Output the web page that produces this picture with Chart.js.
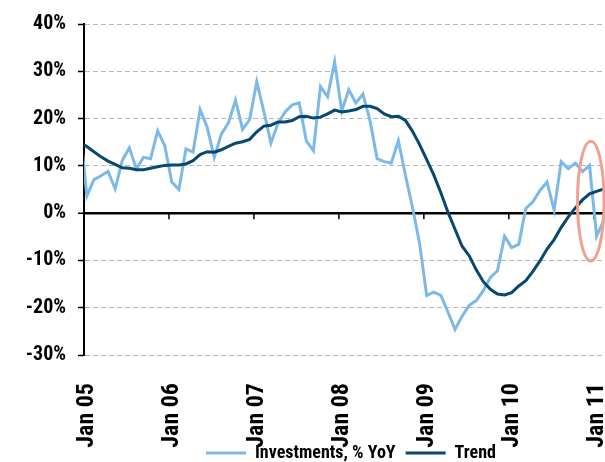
<!DOCTYPE html>
<html>
<head>
<meta charset="utf-8">
<script src="https://cdn.jsdelivr.net/npm/chart.js@4.4.1/dist/chart.umd.min.js"></script>
<style>
    html, body { margin: 0; padding: 0; background: #fff; overflow: hidden; }
    #wrap { width: 605px; height: 462px; overflow: hidden; }
    #chartCanvas { display: block; }
</style>
</head>
<body>
<div id="wrap"><canvas id="chartCanvas" width="702" height="472"></canvas></div>
<script>

// monthly values, first entry is Dec 04 (cut by the axis), last is Feb 11
const firstMonth = -1;

const investments = [
    19.0,
    3.6, 7.1, 7.9, 8.8, 5.1, 11.1, 13.8, 9.4, 11.8, 11.5, 17.4, 14.3,
    6.6, 5.0, 13.6, 12.9, 21.9, 18.1, 11.8, 16.7, 19.1, 23.9, 17.7, 19.8,
    27.8, 21.5, 14.8, 19.0, 21.4, 22.9, 23.3, 15.3, 13.2, 26.8, 24.6, 32.0,
    21.6, 26.1, 23.3, 25.2, 19.5, 11.5, 10.9, 10.6, 15.3, 8.0, 1.2, -6.4,
    -17.4, -16.7, -17.4, -20.9, -24.6, -21.8, -19.5, -18.5, -16.4, -13.6, -12.2, -4.9,
    -7.3, -6.6, 1.0, 2.4, 4.8, 6.6, 0.6, 10.9, 9.4, 10.6, 8.8, 10.1,
    -4.9, -1.5
];

const trend = [
    15.0,
    14.1, 13.0, 11.9, 11.0, 10.3, 9.6, 9.5, 9.2, 9.2, 9.5, 9.8, 10.1,
    10.2, 10.2, 10.4, 11.1, 12.4, 13.0, 12.9, 13.4, 14.1, 14.8, 15.1, 15.6,
    17.2, 18.4, 18.6, 19.3, 19.3, 19.6, 20.4, 20.5, 20.1, 20.3, 21.0, 21.8,
    21.4, 21.6, 21.9, 22.6, 22.6, 22.1, 21.0, 20.4, 20.5, 19.6, 17.3, 14.5,
    11.3, 8.1, 4.3, 0.2, -3.4, -7.0, -9.0, -12.0, -14.5, -16.1, -17.1, -17.3,
    -16.8, -15.4, -14.3, -12.3, -10.1, -7.6, -5.6, -3.0, -0.8, 1.1, 2.8, 4.1,
    4.6, 5.1
];

const yearTicks = [0, 12, 24, 36, 48, 60, 72];
const yearLabels = ["Jan 05", "Jan 06", "Jan 07", "Jan 08", "Jan 09", "Jan 10", "Jan 11"];
const yearMarks = [11.6, 23.6, 35.6, 47.6, 59.6, 71.6];

// the red ring round the last months, in data units
const highlight = { xFrom: 69.3, xTo: 73.05, yFrom: -10.1, yTo: 15.2 };

const toPoints = (arr) => arr.map((v, i) => ({ x: firstMonth + i, y: v }));

Chart.defaults.font.family = "'Roboto Condensed', 'Open Sans Condensed', sans-serif";
Chart.defaults.font.weight = "bold";
Chart.defaults.color = "#000";

const extras = {
    id: "extras",
    beforeDatasetsDraw(chart) {
        const { ctx, scales: { x, y } } = chart;
        const y0 = y.getPixelForValue(0);
        ctx.save();
        ctx.strokeStyle = "#000";
        ctx.lineWidth = 1.5;
        yearMarks.forEach(v => {
            const px = x.getPixelForValue(v);
            ctx.beginPath();
            ctx.moveTo(px, y0);
            ctx.lineTo(px, y0 + 6);
            ctx.stroke();
        });
        ctx.restore();
    },
    afterDatasetsDraw(chart) {
        const { ctx, scales: { x, y } } = chart;
        const x1 = x.getPixelForValue(highlight.xFrom);
        const x2 = x.getPixelForValue(highlight.xTo);
        const yT = y.getPixelForValue(highlight.yTo);
        const yB = y.getPixelForValue(highlight.yFrom);
        ctx.save();
        ctx.strokeStyle = "#f4a08f";
        ctx.lineWidth = 3;
        ctx.beginPath();
        ctx.ellipse((x1 + x2) / 2, (yT + yB) / 2, (x2 - x1) / 2, (yB - yT) / 2, 0, 0, 2 * Math.PI);
        ctx.stroke();
        ctx.restore();
    }
};

let ctx = document.querySelector("#chartCanvas");

let graph = new Chart(ctx, {

    type: "line",

    data: {
        datasets: [
            {
                label: "Investments, % YoY",
                data: toPoints(investments),
                borderColor: "#7db9e8",
                backgroundColor: "#7db9e8",
                borderWidth: 3,
                pointRadius: 0,
                tension: 0,
                order: 1,
                clip: { left: 0, right: 0, top: 4, bottom: 4 }
            },
            {
                label: "Trend",
                data: toPoints(trend),
                borderColor: "#08476f",
                backgroundColor: "#08476f",
                borderWidth: 3,
                pointRadius: 0,
                tension: 0,
                order: 0,
                clip: { left: 0, right: 0, top: 4, bottom: 4 }
            }
        ]
    },

    options: {
        responsive: false,
        animation: false,
        devicePixelRatio: 1,
        layout: {
            padding: { left: 20, right: 20, top: 20, bottom: 0 }
        },
        scales: {
            x: {
                type: "linear",
                min: -0.4,
                max: 84.06,
                afterBuildTicks: (scale) => {
                    scale.ticks = yearTicks.map(v => ({ value: v }));
                },
                afterFit: (scale) => {
                    scale.height = 79;
                    // let the long rotated labels run into the legend strip
                    scale._computeLabelArea = () => null;
                },
                grid: { display: false },
                border: { display: false },
                ticks: {
                    autoSkip: false,
                    minRotation: 90,
                    maxRotation: 90,
                    padding: 20,
                    font: { size: 24 },
                    callback: (value, index) => yearLabels[index]
                }
            },
            y: {
                min: -30,
                max: 40,
                afterFit: (scale) => { scale.width = 64; },
                ticks: {
                    stepSize: 10,
                    padding: 12,
                    font: { size: 20 },
                    callback: (value) => value + "%"
                },
                grid: {
                    color: (c) => (c.tick && c.tick.value === 0) ? "#000" : "#b8b8b8",
                    lineWidth: (c) => (c.tick && c.tick.value === 0) ? 2.5 : 1,
                    tickLength: 6,
                    tickColor: "#000",
                    tickWidth: 1.5
                },
                border: {
                    display: true,
                    color: "#000",
                    width: 2,
                    dash: (c) => (c.tick && c.tick.value === 0) ? [] : [5, 3]
                }
            }
        },
        plugins: {
            tooltip: { enabled: false },
            legend: {
                display: true,
                position: "bottom",
                labels: {
                    usePointStyle: true,
                    pointStyle: "line",
                    pointStyleWidth: 40,
                    padding: 10,
                    font: { size: 18 },
                    sort: (a, b) => a.datasetIndex - b.datasetIndex
                }
            }
        }
    },

    plugins: [extras]
});

</script>
</body>
</html>
